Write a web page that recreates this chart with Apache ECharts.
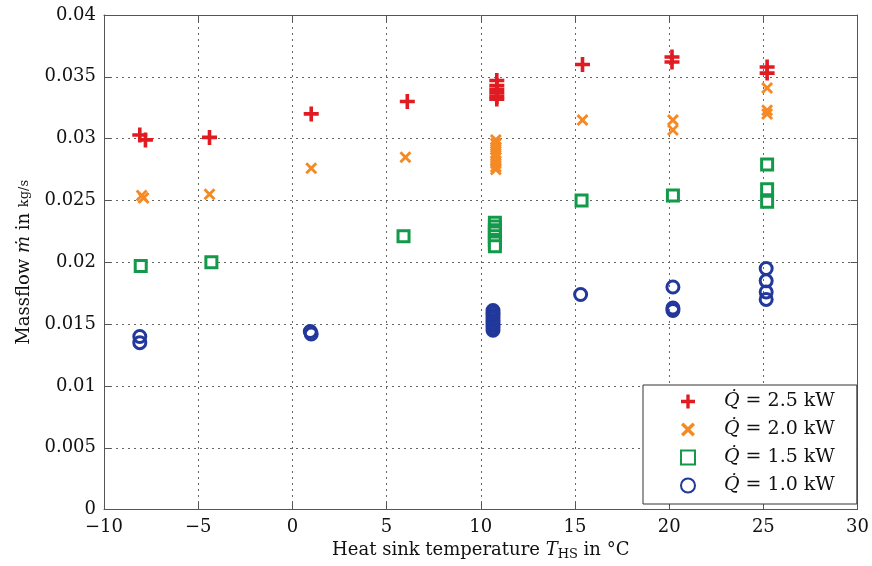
<!DOCTYPE html>
<html>
<head>
<meta charset="utf-8">
<script src="https://cdn.jsdelivr.net/npm/echarts@6/dist/echarts.min.js"></script>
<style>
  html, body { margin: 0; padding: 0; background: #fff; }
  #chart { width: 872px; height: 566px; }
</style>
</head>
<body>
<div id="chart"></div>
<script>
// measured points [T_HS in °C, massflow in kg/s]
const q25 = [
  [-8.1, 0.0303], [-7.8, 0.0299], [-4.4, 0.0301], [1.0, 0.0320], [6.1, 0.0330],
  [10.85, 0.0347], [10.85, 0.0343], [10.85, 0.0340], [10.85, 0.0337], [10.85, 0.0334], [10.85, 0.0332],
  [15.4, 0.0360], [20.15, 0.0366], [20.15, 0.0362], [25.2, 0.0358], [25.2, 0.0353]
]
const q20 = [
  [-8.0, 0.0254], [-7.9, 0.0252], [-4.4, 0.0255], [1.0, 0.0276], [6.0, 0.0285],
  [10.8, 0.0299], [10.8, 0.0296], [10.8, 0.0293], [10.8, 0.0291], [10.8, 0.0288], [10.8, 0.0285],
  [10.8, 0.0282], [10.8, 0.0280], [10.8, 0.0277], [10.8, 0.0275],
  [15.4, 0.0315], [20.2, 0.0315], [20.2, 0.0307], [25.2, 0.0341], [25.2, 0.0323], [25.2, 0.0320]
]
const q15 = [
  [-8.05, 0.0197], [-4.3, 0.0200], [5.9, 0.0221],
  [10.75, 0.0232], [10.75, 0.0229], [10.75, 0.0226], [10.75, 0.0224], [10.75, 0.0221], [10.75, 0.0218],
  [10.75, 0.0216], [10.75, 0.0213],
  [15.35, 0.0250], [20.2, 0.0254], [25.2, 0.0279], [25.2, 0.0259], [25.2, 0.0249]
]
const q10 = [
  [-8.1, 0.0140], [-8.1, 0.0135], [0.95, 0.0144], [1.0, 0.0142],
  [10.65, 0.0161], [10.65, 0.0159], [10.65, 0.0157], [10.65, 0.0155], [10.65, 0.0153], [10.65, 0.0151],
  [10.65, 0.0149], [10.65, 0.0147], [10.65, 0.0145],
  [15.3, 0.0174], [20.2, 0.0180], [20.2, 0.0163], [20.2, 0.0161],
  [25.15, 0.0195], [25.15, 0.0185], [25.15, 0.0176], [25.15, 0.0170]
]
const seriesNames = ['Q̇ = 2.5 kW', 'Q̇ = 2.0 kW', 'Q̇ = 1.5 kW', 'Q̇ = 1.0 kW']
const xTicks = [-10, 30, 5]     // min, max, step
const yTicks = [0, 0.04, 0.005]

const serif = 'DejaVu Serif'
const plusPath = 'path://M0.38,0H0.62V0.38H1V0.62H0.62V1H0.38V0.62H0V0.38H0.38Z'
const crossPath = 'path://M0,0.17L0.17,0L0.5,0.33L0.83,0L1,0.17L0.67,0.5L1,0.83L0.83,1L0.5,0.67L0.17,1L0,0.83L0.33,0.5Z'

const gridLine = { show: true, lineStyle: { color: '#666', type: [2, 4], width: 1 } }
const frame = { show: true, onZero: false, lineStyle: { color: '#555', width: 1 } }
const ticks = { show: true, inside: true, length: 7, lineStyle: { color: '#555' } }

const chart = echarts.init(document.getElementById('chart'))
chart.setOption({
  animation: false,
  grid: { left: 104, right: 12, top: 15, bottom: 54 },
  xAxis: [{
    type: 'value', min: xTicks[0], max: xTicks[1], interval: xTicks[2],
    axisLine: frame, axisTick: ticks, splitLine: gridLine,
    axisLabel: {
      color: '#111', fontFamily: serif, fontSize: 18, margin: 9,
      formatter: v => String(v).replace('-', '−')
    },
    name: '{a|Heat sink temperature }{i|T}{s|HS}{a| in °C}',
    nameLocation: 'middle', nameGap: 28,
    nameTextStyle: {
      rich: {
        a: { fontFamily: serif, fontSize: 18, color: '#111' },
        i: { fontFamily: serif, fontSize: 18, fontStyle: 'italic', color: '#111' },
        s: { fontFamily: serif, fontSize: 13, color: '#111', padding: [8, 0, 0, 0] }
      }
    }
  }, {
    type: 'value', position: 'top', min: xTicks[0], max: xTicks[1], interval: xTicks[2],
    axisLine: frame, axisTick: ticks, axisLabel: { show: false }, splitLine: { show: false }
  }],
  yAxis: [{
    type: 'value', min: yTicks[0], max: yTicks[1], interval: yTicks[2],
    axisLine: frame, axisTick: ticks, splitLine: gridLine,
    axisLabel: { color: '#111', fontFamily: serif, fontSize: 18, margin: 8 },
    name: '{a|Massflow }{i|ṁ}{a| in }{f|kg/s}',
    nameLocation: 'middle', nameGap: 66,
    nameTextStyle: {
      rich: {
        a: { fontFamily: serif, fontSize: 18, color: '#111' },
        i: { fontFamily: serif, fontSize: 18, fontStyle: 'italic', color: '#111' },
        f: { fontFamily: serif, fontSize: 13, color: '#111' }
      }
    }
  }, {
    type: 'value', position: 'right', min: yTicks[0], max: yTicks[1], interval: yTicks[2],
    axisLine: frame, axisTick: ticks, axisLabel: { show: false }, splitLine: { show: false }
  }],
  legend: {
    orient: 'vertical', left: 643, top: 385,
    padding: [7, 22, 9, 37], itemGap: 9, itemWidth: 14, itemHeight: 14,
    backgroundColor: '#fff', borderColor: '#333', borderWidth: 1, borderRadius: 0,
    data: seriesNames,
    formatter: n => '{q|Q̇}{t|' + n.slice(2) + '}',
    textStyle: {
      padding: [0, 0, 0, 24],
      rich: {
        q: { fontFamily: serif, fontSize: 19, fontStyle: 'italic', color: '#111', lineHeight: 21 },
        t: { fontFamily: serif, fontSize: 19, color: '#111', lineHeight: 21 }
      }
    }
  },
  series: [{
    name: seriesNames[0], type: 'scatter', data: q25,
    symbol: plusPath, symbolSize: 15,
    itemStyle: { color: '#e01b22', opacity: 1 }
  }, {
    name: seriesNames[1], type: 'scatter', data: q20,
    symbol: crossPath, symbolSize: 12,
    itemStyle: { color: '#f58a24', opacity: 1 }
  }, {
    name: seriesNames[2], type: 'scatter', data: q15,
    symbol: 'rect', symbolSize: 11,
    itemStyle: { color: '#fff', borderColor: '#12994a', borderWidth: 3, opacity: 1 }
  }, {
    name: seriesNames[3], type: 'scatter', data: q10,
    symbol: 'circle', symbolSize: 12,
    itemStyle: { color: 'rgba(255,255,255,0)', borderColor: '#22389a', borderWidth: 3, opacity: 1 }
  }]
})
</script>
</body>
</html>
